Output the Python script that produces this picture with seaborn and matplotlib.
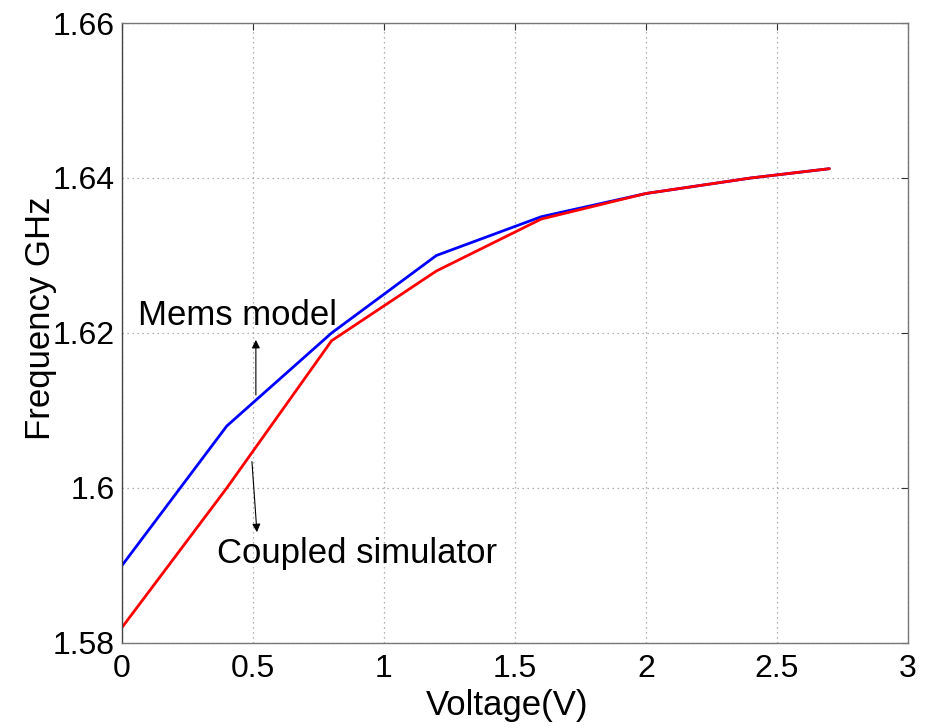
import matplotlib
matplotlib.use("Agg")
import matplotlib.pyplot as plt
import seaborn as sns
import pandas as pd

# Resonance frequency versus bias voltage for the two modelling approaches
voltage = [0.0, 0.4, 0.8, 1.2, 1.6, 2.0, 2.4, 2.7]
mems_model = [1.590, 1.608, 1.620, 1.630, 1.635, 1.638, 1.640, 1.6412]
coupled_sim = [1.582, 1.600, 1.619, 1.628, 1.6347, 1.638, 1.640, 1.6412]

series_names = ["Mems model", "Coupled simulator"]
series_colors = {"Mems model": "#0000ff", "Coupled simulator": "#ff0000"}

x_ticks = [0, 0.5, 1, 1.5, 2, 2.5, 3]
x_tick_labels = ["0", "0.5", "1", "1.5", "2", "2.5", "3"]
y_ticks = [1.58, 1.60, 1.62, 1.64, 1.66]
y_tick_labels = ["1.58", "1.6", "1.62", "1.64", "1.66"]

df = pd.DataFrame({
    "Voltage": voltage * 2,
    "Frequency": mems_model + coupled_sim,
    "Model": [series_names[0]] * len(voltage) + [series_names[1]] * len(voltage),
})

sns.set_style("white")
plt.rcParams["font.family"] = ["Liberation Sans", "DejaVu Sans"]
plt.rcParams["text.color"] = "black"
plt.rcParams["axes.labelcolor"] = "black"
plt.rcParams["xtick.color"] = "black"
plt.rcParams["ytick.color"] = "black"

fig = plt.figure(figsize=(9.32, 7.28), dpi=100)
ax = fig.add_axes([0.1309, 0.1168, 0.8433, 0.8516])

sns.lineplot(data=df, x="Voltage", y="Frequency", hue="Model",
             hue_order=series_names, palette=series_colors,
             linewidth=2.0, legend=False, ax=ax)

ax.set_xlim(0, 3)
ax.set_ylim(1.58, 1.66)
ax.set_xticks(x_ticks)
ax.set_xticklabels(x_tick_labels)
ax.set_yticks(y_ticks)
ax.set_yticklabels(y_tick_labels)

ax.grid(True, linestyle=(0, (1, 3)), color="#999999", linewidth=0.9)
ax.tick_params(axis="both", which="major", direction="in", length=5,
               width=0.8, color="#333333", labelcolor="black", labelsize=23,
               top=True, right=True)
ax.tick_params(axis="x", pad=8)
ax.tick_params(axis="y", pad=5)

for side in ["left", "bottom", "top", "right"]:
    ax.spines[side].set_color("#777777")
    ax.spines[side].set_linewidth(1.0)
ax.spines["left"].set_color("#444444")

ax.set_xlabel("Voltage(V)", fontsize=25, color="black")
ax.set_ylabel("Frequency GHz", fontsize=25, color="black")
ax.xaxis.set_label_coords(0.49, -0.075)
ax.yaxis.set_label_coords(-0.083, 0.523)

arrow_style = dict(arrowstyle="-|>", color="black", lw=0.8, mutation_scale=12,
                   shrinkA=0, shrinkB=0)
ax.text(0.061, 1.621, "Mems model", fontsize=25, va="baseline", ha="left",
        color="black")
ax.annotate("", xy=(0.511, 1.6191), xytext=(0.511, 1.612), arrowprops=arrow_style)
ax.text(0.363, 1.5903, "Coupled simulator", fontsize=25, va="baseline", ha="left",
        color="black")
ax.annotate("", xy=(0.515, 1.5943), xytext=(0.496, 1.6034), arrowprops=arrow_style)

fig.savefig("out.png", dpi=100)
